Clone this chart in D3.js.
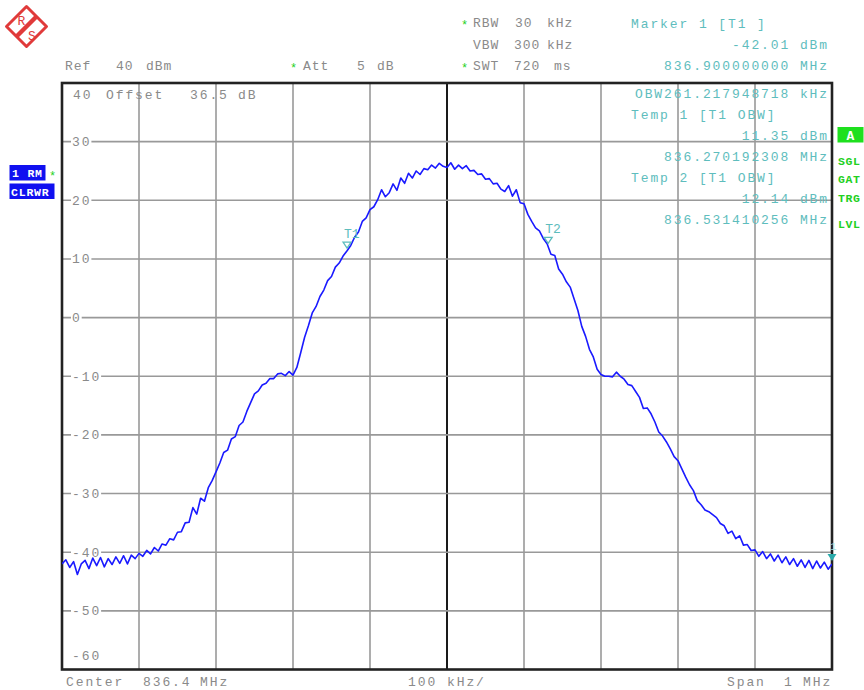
<!DOCTYPE html>
<html><head><meta charset="utf-8">
<script src="https://cdn.jsdelivr.net/npm/d3@7"></script>
<style>
body{margin:0;background:#fff;}
svg text{font-family:"Liberation Mono","DejaVu Sans Mono",monospace;}
</style></head><body>
<svg id="chart" width="864" height="690"></svg>
<script>
// Spectrum trace: one level reading (dBm) every 5 kHz across the 1 MHz span
const freqStartMHz = 835.9;
const freqStepMHz = 0.005;
const traceLevels = [
  -42.0, -41.3, -42.6, -41.6, -43.8, -42.0, -41.4, -42.8, -41.0, -42.3, -40.9, -42.5, -41.1, -42.1, -40.8, -41.9, -40.6, -42.0, -40.5, -41.1, -40.2,
  -40.7, -39.7, -40.3, -39.2, -39.8, -38.6, -38.8, -37.7, -37.9, -36.6, -36.5, -35.0, -34.9, -32.4, -33.5, -30.8, -31.3, -29.0, -27.8, -26.3,
  -24.8, -23.0, -22.6, -20.7, -20.3, -18.4, -17.8, -16.0, -14.5, -13.0, -12.5, -11.5, -11.2, -10.4, -10.4, -9.6, -9.5, -9.9, -9.2, -9.8,
  -8.5, -6.0, -3.4, -1.4, 0.8, 1.9, 3.6, 4.7, 6.3, 7.0, 8.6, 9.3, 10.5, 11.35, 12.3, 13.7, 14.6, 16.4, 17.0, 18.4,
  18.9, 20.1, 21.8, 20.6, 21.3, 22.8, 21.7, 23.8, 22.9, 24.6, 23.8, 25.0, 24.4, 25.4, 25.2, 26.0, 25.5, 26.3, 25.8, 25.6,
  26.4, 25.3, 26.0, 25.4, 25.9, 25.0, 25.1, 24.4, 24.5, 23.6, 23.7, 22.8, 22.9, 21.9, 21.5, 22.5, 20.7, 21.8, 19.6, 19.4,
  17.6, 16.4, 15.3, 14.8, 13.5, 12.6, 10.8, 10.6, 8.3, 7.4, 6.1, 5.2, 3.2, 1.2, -1.5, -3.2, -5.4, -6.7, -8.8, -9.7,
  -10.0, -10.0, -10.1, -9.3, -10.0, -10.5, -11.4, -11.6, -12.6, -13.6, -15.5, -15.4, -16.4, -17.8, -19.5, -20.2, -21.2, -22.4, -23.7, -24.4,
  -25.8, -27.2, -28.5, -29.5, -31.2, -31.9, -32.8, -33.1, -33.6, -34.1, -35.1, -35.5, -36.8, -36.4, -37.7, -37.2, -38.8, -38.7, -39.7, -39.6,
  -40.7, -39.9, -41.1, -40.3, -41.5, -40.5, -41.8, -40.8, -42.1, -41.1, -42.4, -41.3, -42.6, -41.4, -42.8, -41.5, -42.7, -41.7, -42.9, -42.01
];
const levelTicks = [30, 20, 10, 0, -10, -20, -30, -40, -50];
const freqGridMHz = [836.0, 836.1, 836.2, 836.3, 836.4, 836.5, 836.6, 836.7, 836.8];
const centerMHz = 836.4;
const markers = [
  { name: "T1", freq: 836.270192308, level: 11.35 },
  { name: "T2", freq: 836.531410256, level: 12.14 }
];
const marker1 = { name: "1", freq: 836.9, level: -42.01 };

const GRAY = "#8a8a8a", TEAL = "#5ebdbd", GREEN = "#22d022", BLUE = "#1a1aff";
const svg = d3.select("#chart");

const x = d3.scaleLinear().domain([835.9, 836.9]).range([62, 832]);
const y = d3.scaleLinear().domain([-60, 40]).range([669.5, 83]);

// grid
const grid = svg.append("g");
grid.selectAll("line.v").data(freqGridMHz).join("line")
  .attr("x1", d => x(d)).attr("x2", d => x(d)).attr("y1", y(40)).attr("y2", y(-60))
  .attr("stroke", d => d === centerMHz ? "#1a1a1a" : "#999").attr("stroke-width", d => d === centerMHz ? 2 : 1.6);
grid.selectAll("line.h").data(levelTicks).join("line")
  .attr("x1", x(835.9)).attr("x2", x(836.9)).attr("y1", d => y(d)).attr("y2", d => y(d))
  .attr("stroke", "#999").attr("stroke-width", 1.6);

function txt(g, xx, yy, s, o = {}) {
  return g.append("text").attr("x", xx).attr("y", yy).text(s)
    .attr("fill", o.fill || GRAY).attr("font-size", o.size || 13)
    .attr("letter-spacing", o.ls == null ? 1.9 : o.ls)
    .attr("text-anchor", o.anchor || "start")
    .attr("font-weight", o.weight || "normal");
}

// level labels sitting on the gridlines
const lbl = svg.append("g");
levelTicks.forEach(v => {
  const s = String(v);
  const w = s.length * 9.7;
  lbl.append("rect").attr("x", 71).attr("y", y(v) - 6).attr("width", w + 1).attr("height", 12).attr("fill", "#fff");
  txt(lbl, 72, y(v) + 4.5, s);
});
txt(lbl, 72, 660, "-60");
txt(lbl, 73, 99, "40");
txt(lbl, 106, 99, "Offset");
txt(lbl, 190, 99, "36.5");
txt(lbl, 238, 99, "dB");

// frame
svg.append("rect").attr("x", x(835.9)).attr("y", y(40)).attr("width", x(836.9) - x(835.9)).attr("height", y(-60) - y(40))
  .attr("fill", "none").attr("stroke", "#222").attr("stroke-width", 2.6);

// trace
svg.append("clipPath").attr("id", "plotclip").append("rect")
  .attr("x", x(835.9)).attr("y", y(40)).attr("width", x(836.9) - x(835.9)).attr("height", y(-60) - y(40));
const line = d3.line().x((d, i) => x(freqStartMHz + i * freqStepMHz)).y(d => y(d));
svg.append("path").datum(traceLevels).attr("d", line).attr("clip-path", "url(#plotclip)")
  .attr("fill", "none").attr("stroke", BLUE).attr("stroke-width", 1.6).attr("stroke-linejoin", "round");

// markers
markers.forEach(m => {
  const mx = x(m.freq), my = y(m.level) - 3;
  svg.append("path").attr("d", `M${mx - 4},${my - 6}L${mx + 4},${my - 6}L${mx},${my}Z`)
    .attr("fill", "none").attr("stroke", TEAL).attr("stroke-width", 1.3);
  txt(svg, mx - 3, my - 10, m.name, { fill: TEAL, ls: 0 });
});
{
  const mx = x(marker1.freq), my = y(marker1.level) - 3;
  svg.append("path").attr("d", `M${mx - 4.5},${my - 7}L${mx + 4.5},${my - 7}L${mx},${my}Z`).attr("fill", "#2aaaaa");
  txt(svg, mx - 2, my - 11, marker1.name, { fill: "#a8dcdc", ls: 0, size: 11 });
}

// header settings
const hd = svg.append("g");
const hs = { ls: 1.0 };
txt(hd, 65, 70, "Ref", hs); txt(hd, 116, 70, "40", hs); txt(hd, 146, 70, "dBm", hs);
txt(hd, 290, 72, "*", { fill: GREEN, size: 12, ls: 0 });
txt(hd, 303, 70, "Att", hs); txt(hd, 357, 70, "5", hs); txt(hd, 377, 70, "dB", hs);
txt(hd, 461, 29, "*", { fill: GREEN, size: 12, ls: 0 });
txt(hd, 473, 27, "RBW", hs); txt(hd, 515, 27, "30", hs); txt(hd, 547, 27, "kHz", hs);
txt(hd, 473, 49, "VBW", hs); txt(hd, 514, 49, "300", hs); txt(hd, 547, 49, "kHz", hs);
txt(hd, 461, 72, "*", { fill: GREEN, size: 12, ls: 0 });
txt(hd, 473, 70, "SWT", hs); txt(hd, 514, 70, "720", hs); txt(hd, 554, 70, "ms", hs);

// marker readouts
const mr = svg.append("g");
const tealOpts = { fill: TEAL, anchor: "end" };
txt(mr, 631, 28, "Marker 1 [T1 ]", { fill: TEAL });
txt(mr, 829, 49, "-42.01 dBm", tealOpts);
txt(mr, 829, 70, "836.900000000 MHz", tealOpts);
txt(mr, 829, 98, "OBW261.217948718 kHz", tealOpts);
txt(mr, 631, 119, "Temp 1 [T1 OBW]", { fill: TEAL });
txt(mr, 829, 140, "11.35 dBm", tealOpts);
txt(mr, 829, 161, "836.270192308 MHz", tealOpts);
txt(mr, 631, 182, "Temp 2 [T1 OBW]", { fill: TEAL });
txt(mr, 829, 203, "12.14 dBm", tealOpts);
txt(mr, 829, 224, "836.531410256 MHz", tealOpts);

// footer
const ft = svg.append("g");
const fy = 686;
txt(ft, 66, fy, "Center"); txt(ft, 143, fy, "836.4"); txt(ft, 200, fy, "MHz");
txt(ft, 408, fy, "100"); txt(ft, 447, fy, "kHz/");
txt(ft, 727, fy, "Span"); txt(ft, 784, fy, "1"); txt(ft, 803, fy, "MHz");

// trace status boxes (left)
svg.append("rect").attr("x", 9.5).attr("y", 165).attr("width", 36).attr("height", 15.5).attr("fill", "#1010f0");
txt(svg, 12, 177, "1 RM", { fill: "#fff", size: 11.5, ls: 0.8, weight: "bold" });
txt(svg, 49, 180, "*", { fill: GREEN, size: 12, ls: 0 });
svg.append("rect").attr("x", 9.5).attr("y", 183.5).attr("width", 45).attr("height", 15.5).attr("fill", "#1010f0");
txt(svg, 11, 195.5, "CLRWR", { fill: "#fff", size: 11.5, ls: 0.8, weight: "bold" });

// instrument status column (right)
svg.append("rect").attr("x", 837.5).attr("y", 127).attr("width", 26).attr("height", 15.5).attr("fill", "#1ee01e");
txt(svg, 850.5, 139.5, "A", { fill: "#fff", size: 13, ls: 0, anchor: "middle", weight: "bold" });
[["SGL", 165], ["GAT", 183], ["TRG", 202], ["LVL", 228]].forEach(([s, yy]) =>
  txt(svg, 838, yy, s, { fill: GREEN, size: 11.5, ls: 0.6, weight: "bold" }));

// logo
const logo = svg.append("g");
const RED = "#e03a3a";
logo.append("path").attr("d", "M6.5,26.5L26.5,6.5L46.5,26.5L26.5,46.5Z")
  .attr("fill", "#fff").attr("stroke", RED).attr("stroke-width", 3).attr("stroke-linejoin", "round");
logo.append("line").attr("x1", 16.5).attr("y1", 36.5).attr("x2", 36.5).attr("y2", 16.5)
  .attr("stroke", RED).attr("stroke-width", 4.5);
logo.append("text").attr("x", 17.5).attr("y", 25).text("R").attr("fill", RED)
  .attr("font-size", 13).attr("font-family", "Liberation Serif, serif");
logo.append("text").attr("x", 28).attr("y", 40).text("S").attr("fill", RED)
  .attr("font-size", 13).attr("font-family", "Liberation Serif, serif");
</script>
</body></html>
